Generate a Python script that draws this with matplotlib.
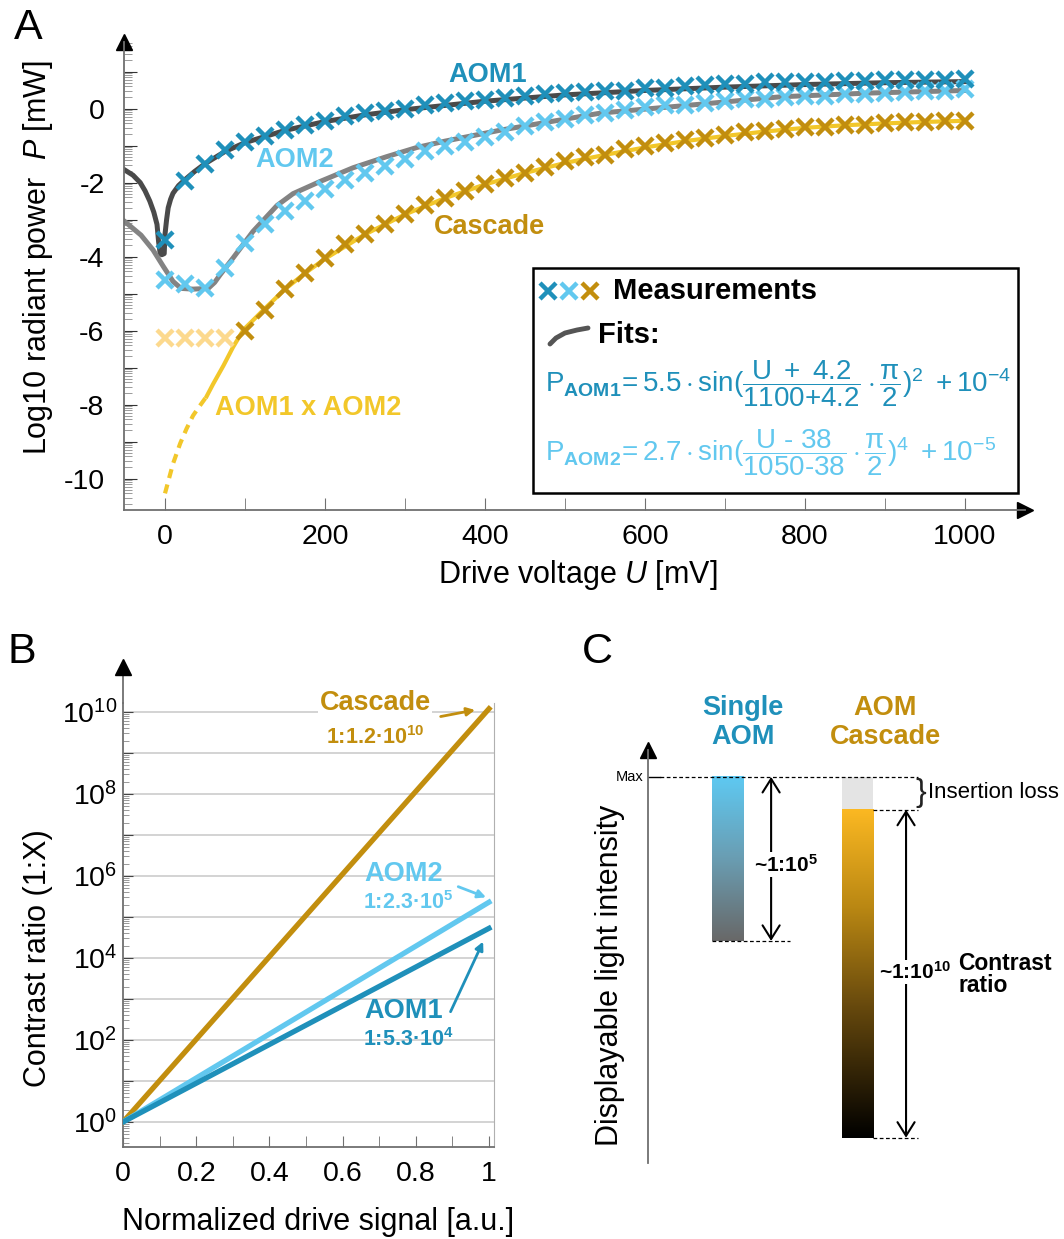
import numpy as np
import matplotlib
matplotlib.use('Agg')
import matplotlib.pyplot as plt
from matplotlib.colors import LinearSegmentedColormap
from matplotlib.ticker import FixedLocator, FuncFormatter, LogLocator
from matplotlib.patches import Rectangle
from matplotlib.lines import Line2D

plt.rcParams['font.family'] = ['Liberation Sans', 'DejaVu Sans']
plt.rcParams['mathtext.fontset'] = 'custom'
plt.rcParams['mathtext.rm'] = 'Liberation Sans'
plt.rcParams['mathtext.it'] = 'Liberation Sans:italic'
plt.rcParams['mathtext.bf'] = 'Liberation Sans:bold'

# ---- panel A data (log10 of power in mW) ----
U_meas = np.arange(0, 1001, 25)
aom1_meas = [-3.54, -1.97, -1.49, -1.12, -0.90, -0.73, -0.57, -0.44, -0.33, -0.21,
             -0.13, -0.06, 0.00, 0.10, 0.16, 0.21, 0.24, 0.28, 0.34, 0.39,
             0.43, 0.44, 0.48, 0.48, 0.56, 0.55, 0.62, 0.63, 0.66, 0.67,
             0.71, 0.71, 0.72, 0.72, 0.75, 0.75, 0.76, 0.76, 0.76, 0.77, 0.79]
aom2_meas = [-4.63, -4.75, -4.86, -4.31, -3.63, -3.12, -2.77, -2.50, -2.18, -1.94,
             -1.73, -1.55, -1.35, -1.14, -1.01, -0.91, -0.76, -0.64, -0.48, -0.36,
             -0.28, -0.16, -0.12, -0.05, 0.03, 0.10, 0.11, 0.16, 0.21, 0.25,
             0.26, 0.30, 0.34, 0.35, 0.39, 0.40, 0.43, 0.44, 0.47, 0.48, 0.52]
casc_U = np.arange(100, 1001, 25)
casc_meas = [-6.02, -5.44, -4.87, -4.45, -4.04, -3.66, -3.39, -3.13, -2.86, -2.60,
             -2.41, -2.23, -2.05, -1.87, -1.73, -1.58, -1.42, -1.32, -1.26, -1.10,
             -1.01, -0.92, -0.85, -0.80, -0.71, -0.64, -0.60, -0.55, -0.51, -0.50,
             -0.44, -0.45, -0.40, -0.37, -0.36, -0.34, -0.33]
floor_U = [0, 25, 50, 75]
floor_meas = [-6.2, -6.2, -6.2, -6.2]

fit1_U = [-51, -40, -31, -25, -19, -14, -10, -8, -6, -4, -1, 0, 2, 4, 7, 10, 17, 25, 37,
          50, 75, 100, 150, 200, 250, 300, 400, 500, 600, 700, 800, 900, 1000]
fit1_P = [-1.65, -1.80, -2.00, -2.22, -2.50, -2.80, -3.13, -3.60, -3.92, -3.95, -3.92,
          -3.40, -3.00, -2.68, -2.45, -2.29, -2.08, -1.92, -1.70, -1.49, -1.16, -0.92,
          -0.59, -0.35, -0.17, -0.03, 0.20, 0.37, 0.49, 0.58, 0.65, 0.70, 0.73]
fit2_U = [-51, -30, -15, -2, 10, 20, 35, 54, 62, 69, 85, 110, 140, 160, 195, 235, 277,
          315, 350, 420, 545, 670, 770, 880, 1000]
fit2_P = [-3.04, -3.42, -3.82, -4.27, -4.67, -4.86, -4.88, -4.86, -4.70, -4.49, -4.04,
          -3.32, -2.62, -2.30, -1.96, -1.60, -1.30, -1.05, -0.88, -0.58, -0.12, 0.12,
          0.32, 0.42, 0.49]
prod_dash_U = [0, 10, 19, 27, 35, 43, 52]
prod_dash_P = [-10.4, -9.6, -9.05, -8.65, -8.3, -8.05, -7.78]
prod_U = [52, 60, 73, 85, 98, 125, 150, 175, 200, 250, 300, 350, 400, 450, 500, 550,
          600, 650, 700, 750, 800, 850, 900, 950, 1000]
prod_P = [-7.78, -7.45, -6.95, -6.45, -5.98, -5.40, -4.88, -4.45, -4.06, -3.40, -2.86,
          -2.42, -2.05, -1.74, -1.47, -1.25, -1.05, -0.88, -0.74, -0.62, -0.52, -0.45,
          -0.40, -0.36, -0.33]

# ---- panel B data ----
drive = [0, 1]
ratio_cascade = [1, 1.2e10]
ratio_aom2 = [1, 2.3e5]
ratio_aom1 = [1, 5.3e4]

# ---- panel C data (decades below max) ----
single_decades = 5
cascade_decades = 10
insertion_decades = 1

C_AOM1 = '#1f90ba'
C_AOM2 = '#62c8ef'
C_CASC = '#c28e0e'
C_FLOOR = '#fcd98e'
C_PROD = '#f2c72a'
C_FIT1 = '#4a4a4a'
C_FIT2 = '#838383'
C_SPINE = '#707070'

W, H = 1064, 1239


def fx(px):
    return px / W


def fy(py):
    return 1 - py / H


fig = plt.figure(figsize=(W / 100, H / 100), dpi=100)

# ================= A =================
axA = fig.add_axes([fx(124), fy(510), (1025 - 124) / W, (510 - 42) / H])
axA.set_xlim(-51.25, 1075)
axA.set_ylim(-10.85, 1.80)
for s in ['top', 'right']:
    axA.spines[s].set_visible(False)
for s in ['left', 'bottom']:
    axA.spines[s].set_color(C_SPINE)
    axA.spines[s].set_linewidth(1.3)

axA.plot(fit1_U, fit1_P, color=C_FIT1, lw=3.6, zorder=2)
axA.plot(fit2_U, fit2_P, color=C_FIT2, lw=3.6, zorder=2)
axA.plot(prod_dash_U, prod_dash_P, color=C_PROD, lw=3, ls=(0, (2.2, 1.6)), zorder=2)
axA.plot(prod_U, prod_P, color=C_PROD, lw=3, zorder=2)
mk = dict(ls='none', marker='x', ms=12, mew=3.2, zorder=4)
axA.plot(floor_U, floor_meas, color=C_FLOOR, **mk)
axA.plot(casc_U, casc_meas, color=C_CASC, **mk)
axA.plot(U_meas, aom2_meas, color=C_AOM2, **mk)
axA.plot(U_meas, aom1_meas, color=C_AOM1, **mk)

axA.xaxis.set_major_locator(FixedLocator(range(0, 1001, 200)))
axA.xaxis.set_minor_locator(FixedLocator(range(100, 1000, 200)))
axA.tick_params(axis='x', which='both', direction='in', length=9, color=C_SPINE,
                labelsize=20.5, pad=10)
axA.yaxis.set_major_locator(FixedLocator(range(-10, 2)))
axA.yaxis.set_major_formatter(FuncFormatter(
    lambda v, p: f'{int(round(v))}' if int(round(v)) % 2 == 0 else ''))
minorA = [n + np.log10(k) for n in range(-11, 2) for k in range(2, 10)]
axA.yaxis.set_minor_locator(FixedLocator([m for m in minorA if -10.85 < m < 1.8]))
axA.tick_params(axis='y', which='major', direction='in', length=9, color='#333333',
                labelsize=20.5, pad=14)
axA.tick_params(axis='y', which='minor', direction='in', length=6, color='#8a8a8a')
axA.plot([0], [1], marker='^', color='k', ms=11, transform=axA.transAxes, clip_on=False)
axA.plot([1], [0], marker='>', color='k', ms=11, transform=axA.transAxes, clip_on=False)

lab = dict(fontsize=19.5, fontweight='bold', ha='center', va='center')
axA.text(403, 0.90, 'AOM1', color=C_AOM1, **lab)
axA.text(162, -1.40, 'AOM2', color=C_AOM2, **lab)
axA.text(406, -3.20, 'Cascade', color=C_CASC, **lab)
axA.text(179, -8.10, 'AOM1 x AOM2', color=C_PROD, **lab)

fig.text(fx(578), fy(575), 'Drive voltage $U$ [mV]', fontsize=22, ha='center', va='center')
fig.text(fx(38), fy(258), 'Log10 radiant power  $P$ [mW]', fontsize=22, rotation=90,
         ha='center', va='center')

# legend box
fig.patches.append(Rectangle((fx(533), fy(493)), (1018 - 533) / W, (493 - 268) / H,
                             transform=fig.transFigure, fill=False, ec='k', lw=1.8))
for xp, c in zip([548, 569, 590], [C_AOM1, C_AOM2, C_CASC]):
    fig.add_artist(Line2D([fx(xp)], [fy(291)], marker='x', ms=12, mew=3.2, color=c,
                          transform=fig.transFigure))
fig.text(fx(613), fy(291), 'Measurements', fontsize=21, fontweight='bold', va='center')
fig.add_artist(Line2D([fx(p) for p in [550, 556, 565, 577, 588]],
                      [fy(p) for p in [344, 338, 333, 330, 328]],
                      color='#555555', lw=3.5, solid_capstyle='round',
                      transform=fig.transFigure))
fig.text(fx(598), fy(335), 'Fits:', fontsize=21, fontweight='bold', va='center')
f1 = (r'$\mathrm{P}_{\mathbf{AOM1}}\!= 5.5\cdot\mathrm{sin}(\dfrac{\mathrm{U}\ +\ 4.2}'
      r'{1100{+}4.2}\cdot\dfrac{\mathrm{\pi}}{2})^2\ +10^{-4}$')
f2 = (r'$\mathrm{P}_{\mathbf{AOM2}}\!= 2.7\cdot\mathrm{sin}(\dfrac{\mathrm{U}\ \text{-}\ 38}'
      r'{1050\text{-}38}\cdot\dfrac{\mathrm{\pi}}{2})^4\ +10^{-5}$')
fig.text(fx(545), fy(384), f1, fontsize=20, color=C_AOM1, va='center')
fig.text(fx(545), fy(453), f2, fontsize=20, color=C_AOM2, va='center')

# ================= B =================
axB = fig.add_axes([fx(123), fy(1147), (494 - 123) / W, (1147 - 703) / H])
axB.set_yscale('log')
axB.set_xlim(0, 1.0137)
axB.set_ylim(10 ** -0.61, 10 ** 10.22)
axB.spines['top'].set_visible(False)
axB.spines['right'].set_color('#b0b0b0')
for s in ['left', 'bottom']:
    axB.spines[s].set_color(C_SPINE)
    axB.spines[s].set_linewidth(1.3)
axB.yaxis.set_major_locator(FixedLocator([10.0 ** n for n in range(0, 11)]))
axB.yaxis.set_major_formatter(FuncFormatter(
    lambda v, p: rf'$10^{{{int(round(np.log10(v)))}}}$'
    if int(round(np.log10(v))) % 2 == 0 else ''))
axB.yaxis.set_minor_locator(LogLocator(base=10, subs=np.arange(2, 10), numticks=100))
axB.yaxis.set_minor_formatter(FuncFormatter(lambda v, p: ''))
axB.grid(True, which='major', axis='y', color='#c8c8c8', lw=1.1)
axB.tick_params(axis='y', which='major', direction='in', length=7, color='#444444',
                labelsize=20.5, pad=4)
axB.tick_params(axis='y', which='minor', direction='in', length=4, color='#888888')
axB.xaxis.set_major_locator(FixedLocator([0, 0.2, 0.4, 0.6, 0.8, 1.0]))
axB.xaxis.set_major_formatter(FuncFormatter(lambda v, p: f'{v:g}'))
axB.xaxis.set_minor_locator(FixedLocator([0.1, 0.3, 0.5, 0.7, 0.9]))
axB.tick_params(axis='x', which='both', direction='in', length=8, color=C_SPINE,
                labelsize=20.5, pad=10)

axB.plot(drive, ratio_cascade, color=C_CASC, lw=3.8, zorder=3)
axB.plot(drive, ratio_aom2, color=C_AOM2, lw=3.8, zorder=3)
axB.plot(drive, ratio_aom1, color=C_AOM1, lw=3.8, zorder=3)
axB.plot([0, 0], [1, 1.08], color=C_SPINE, lw=1.3, transform=axB.transAxes, clip_on=False)
axB.plot([0], [1.08], marker='^', color='k', ms=11, transform=axB.transAxes, clip_on=False)

wb = dict(facecolor='white', edgecolor='none', pad=1)
axB.text(0.689, 10 ** 10.22, 'Cascade', color=C_CASC, fontsize=19.5, fontweight='bold',
         ha='center', va='center', bbox=wb, clip_on=False, zorder=5)
axB.text(0.689, 10 ** 9.37, r'1:1.2·10$^{\mathbf{10}}$', color=C_CASC, fontsize=15.5,
         fontweight='bold', ha='center', va='center')
axB.annotate('', xy=(0.962, 10 ** 10.05), xytext=(0.868, 10 ** 9.89),
             arrowprops=dict(arrowstyle='-|>', color=C_CASC, lw=2, mutation_scale=12,
                             shrinkA=0, shrinkB=0))
axB.text(0.768, 10 ** 6.05, 'AOM2', color=C_AOM2, fontsize=19.5, fontweight='bold',
         ha='center', va='center')
axB.text(0.779, 10 ** 5.35, r'1:2.3·10$^{\mathbf{5}}$', color=C_AOM2, fontsize=15.5,
         fontweight='bold', ha='center', va='center')
axB.annotate('', xy=(0.992, 10 ** 5.48), xytext=(0.916, 10 ** 5.74),
             arrowprops=dict(arrowstyle='-|>', color=C_AOM2, lw=2, mutation_scale=12,
                             shrinkA=0, shrinkB=0))
axB.text(0.768, 10 ** 2.70, 'AOM1', color=C_AOM1, fontsize=19.5, fontweight='bold',
         ha='center', va='center')
axB.text(0.779, 10 ** 2.00, r'1:5.3·10$^{\mathbf{4}}$', color=C_AOM1, fontsize=15.5,
         fontweight='bold', ha='center', va='center')
axB.annotate('', xy=(0.984, 10 ** 4.40), xytext=(0.895, 10 ** 2.69),
             arrowprops=dict(arrowstyle='-|>', color=C_AOM1, lw=2, mutation_scale=12,
                             shrinkA=0, shrinkB=0))

fig.text(fx(318), fy(1222), 'Normalized drive signal [a.u.]', fontsize=22,
         ha='center', va='center')
fig.text(fx(38), fy(958), 'Contrast ratio (1:X)', fontsize=22, rotation=90,
         ha='center', va='center')

# ================= C =================
axC = fig.add_axes([fx(648), fy(1163), (1064 - 648) / W, (1163 - 750) / H])
axC.set_xlim(0.388, 3.588)
axC.set_ylim(-11.77, 0.82)
for s in ['top', 'right', 'bottom']:
    axC.spines[s].set_visible(False)
axC.spines['left'].set_color(C_SPINE)
axC.spines['left'].set_linewidth(1.3)
axC.set_xticks([])
axC.set_yticks([])
axC.plot([0], [1], marker='^', color='k', ms=11, transform=axC.transAxes, clip_on=False)

bw = 0.24
grad = np.linspace(0, 1, 256).reshape(-1, 1)
cm_single = LinearSegmentedColormap.from_list('single', ['#5ec9f2', '#6a9db2', '#686868'])
cm_casc = LinearSegmentedColormap.from_list(
    'casc', [(0, '#fbb822'), (0.3, '#b98713'), (0.6, '#67490d'), (1, '#000000')])
axC.imshow(grad, extent=(1 - bw / 2, 1 + bw / 2, -single_decades, 0), cmap=cm_single,
           aspect='auto', origin='upper', zorder=1)
axC.bar(2, insertion_decades, width=bw, bottom=-insertion_decades, color='#e4e4e4',
        zorder=1)
axC.imshow(grad, extent=(2 - bw / 2, 2 + bw / 2,
                         -insertion_decades - cascade_decades, -insertion_decades),
           cmap=cm_casc, aspect='auto', origin='upper', zorder=1)
axC.set_xlim(0.388, 3.588)
axC.set_ylim(-11.77, 0.82)

dash = dict(color='k', lw=0.9, ls=(0, (3, 2)), zorder=2)
axC.plot([0.388, 0.481], [0, 0], color='k', lw=1, zorder=2)
axC.plot([0.481, 2.465], [0, 0], **dash)
axC.plot([1 - bw / 2, 1.48], [-single_decades, -single_decades], **dash)
axC.plot([2 + bw / 2, 2.465], [-insertion_decades, -insertion_decades], **dash)
axC.plot([2 + bw / 2, 2.465], [-insertion_decades - cascade_decades] * 2, **dash)
axC.text(0.35, 0, 'Max', fontsize=10.5, ha='right', va='center')

arr = dict(arrowstyle='<->,head_length=0.35,head_width=0.22', color='k', lw=1.5,
           mutation_scale=28, shrinkA=0, shrinkB=0)
axC.annotate('', xy=(1.335, 0), xytext=(1.335, -single_decades), arrowprops=arr)
axC.annotate('', xy=(2.373, -insertion_decades),
             xytext=(2.373, -insertion_decades - cascade_decades), arrowprops=arr)
axC.text(1.45, -2.68, r'~1:10$^{\mathbf{5}}$', fontsize=15, fontweight='bold',
         ha='center', va='center', bbox=dict(facecolor='white', edgecolor='none', pad=1))
axC.text(2.44, -5.95, r'~1:10$^{\mathbf{10}}$', fontsize=15, fontweight='bold',
         ha='center', va='center', bbox=dict(facecolor='white', edgecolor='none', pad=1))
axC.text(2.773, -6.02, 'Contrast\nratio', fontsize=16.5, fontweight='bold', ha='left',
         va='center', linespacing=0.95)
axC.text(2.49, -0.49, '}', fontsize=23, ha='center', va='center', color='#222222')
axC.text(2.542, -0.49, 'Insertion loss', fontsize=16, ha='left', va='center')
axC.text(1.12, 1.66, 'Single\nAOM', color=C_AOM1, fontsize=19.5, fontweight='bold',
         ha='center', va='center', linespacing=1.12, clip_on=False)
axC.text(2.215, 1.66, 'AOM\nCascade', color=C_CASC, fontsize=19.5, fontweight='bold',
         ha='center', va='center', linespacing=1.12, clip_on=False)
fig.text(fx(610), fy(975), 'Displayable light intensity', fontsize=22, rotation=90,
         ha='center', va='center')

# panel letters
fig.text(fx(28), fy(28), 'A', fontsize=31, ha='center', va='center')
fig.text(fx(22), fy(652), 'B', fontsize=31, ha='center', va='center')
fig.text(fx(597), fy(652), 'C', fontsize=31, ha='center', va='center')

fig.savefig('out.png', dpi=100)
